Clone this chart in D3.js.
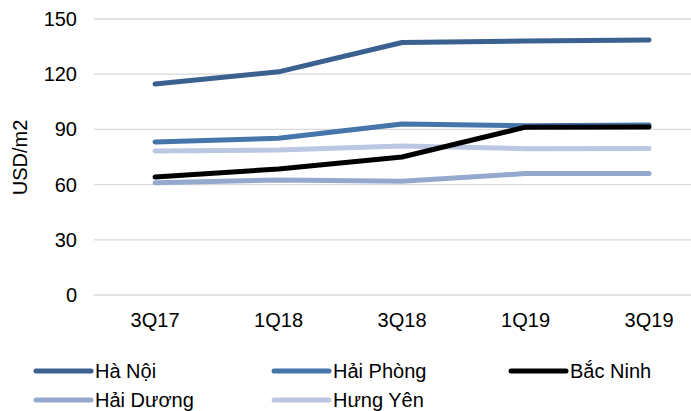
<!DOCTYPE html>
<html>
<head>
<meta charset="utf-8">
<script src="https://cdn.jsdelivr.net/npm/d3@7"></script>
<style>
  body { margin: 0; background: #fff; }
  svg { display: block; font-family: "Liberation Sans", Arial, sans-serif; }
</style>
</head>
<body>
<svg id="chart" width="691" height="411"></svg>
<script>
const categories = ["3Q17", "1Q18", "3Q18", "1Q19", "3Q19"];
const seriesNames = ["Hà Nội", "Hải Phòng", "Bắc Ninh", "Hải Dương", "Hưng Yên"];
const haNoi = [114.7, 121.3, 137.2, 138, 138.6];
const haiPhong = [83.2, 85.2, 92.9, 92, 92.4];
const bacNinh = [64.1, 68.5, 75, 91.2, 91.3];
const haiDuong = [61, 62.5, 61.8, 66, 66];
const hungYen = [78.3, 78.8, 81, 79.5, 79.6];
const yTicks = [0, 30, 60, 90, 120, 150];

const colors = ["#3a6190", "#4675aa", "#000000", "#95a9cf", "#bcc8e2"];
const values = [haNoi, haiPhong, bacNinh, haiDuong, hungYen];

const svg = d3.select('#chart');

const x = d3.scaleBand()
    .domain(categories)
    .range([93.3, 710.8]);

const y = d3.scaleLinear()
    .domain([0, 150])
    .range([295, 19]);

// gridlines
svg.append('g')
    .selectAll('line')
    .data(yTicks)
    .enter()
    .append('line')
    .attr('x1', 94)
    .attr('x2', 691)
    .attr('y1', d => y(d))
    .attr('y2', d => y(d))
    .attr('stroke', '#d9d9d9')
    .attr('stroke-width', 1.3);

// y labels
svg.append('g')
    .selectAll('text')
    .data(yTicks)
    .enter()
    .append('text')
    .attr('x', 77)
    .attr('y', d => y(d))
    .attr('dy', '0.35em')
    .attr('text-anchor', 'end')
    .attr('font-size', 20)
    .attr('fill', '#000')
    .text(d => d);

// x labels
svg.append('g')
    .selectAll('text')
    .data(categories)
    .enter()
    .append('text')
    .attr('x', d => x(d) + x.bandwidth() / 2)
    .attr('y', 327)
    .attr('text-anchor', 'middle')
    .attr('font-size', 20)
    .attr('fill', '#000')
    .text(d => d);

// axis title
svg.append('text')
    .attr('transform', 'translate(27,157.5) rotate(-90)')
    .attr('text-anchor', 'middle')
    .attr('font-size', 20)
    .text('USD/m2');

const line = d3.line()
    .x((d, i) => x(categories[i]) + x.bandwidth() / 2)
    .y(d => y(d));

// draw lines (back to front matching the reference stacking)
const order = [4, 3, 1, 0, 2];
svg.append('g')
    .selectAll('path')
    .data(order)
    .enter()
    .append('path')
    .attr('d', i => line(values[i]))
    .attr('fill', 'none')
    .attr('stroke', i => colors[i])
    .attr('stroke-width', 5)
    .attr('stroke-linecap', 'round')
    .attr('stroke-linejoin', 'round');

// legend
const legendCols = [36, 274, 511];
const legendRows = [371, 400];
const legend = svg.append('g')
    .selectAll('g')
    .data(seriesNames)
    .enter()
    .append('g')
    .attr('transform', (d, i) => `translate(${legendCols[i % 3]},${legendRows[Math.floor(i / 3)]})`);

legend.append('line')
    .attr('x1', 0)
    .attr('x2', 55)
    .attr('stroke', (d, i) => colors[i])
    .attr('stroke-width', 5)
    .attr('stroke-linecap', 'round');

legend.append('text')
    .attr('x', 59)
    .attr('dy', '0.36em')
    .attr('font-size', 20)
    .text(d => d);
</script>
</body>
</html>
